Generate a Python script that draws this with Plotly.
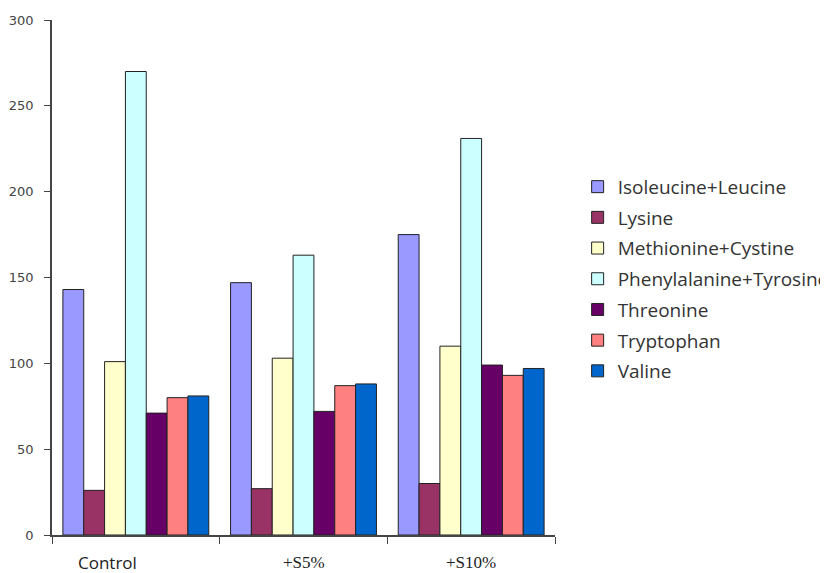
import plotly.graph_objects as go

categories = ["Control", "+S5%", "+S10%"]
series_names = ["Isoleucine+Leucine", "Lysine", "Methionine+Cystine",
                "Phenylalanine+Tyrosine", "Threonine", "Tryptophan", "Valine"]
isoleucine_leucine = [143, 147, 175]
lysine = [26, 27, 30]
methionine_cystine = [101, 103, 110]
phenylalanine_tyrosine = [270, 163, 231]
threonine = [71, 72, 99]
tryptophan = [80, 87, 93]
valine = [81, 88, 97]
values = [isoleucine_leucine, lysine, methionine_cystine, phenylalanine_tyrosine,
          threonine, tryptophan, valine]
colors = ["#9999FF", "#993366", "#FFFFCC", "#CCFFFF", "#660066", "#FF8080", "#0066CC"]
y_ticks = [0, 50, 100, 150, 200, 250, 300]

fig = go.Figure()
for name, vals, col in zip(series_names, values, colors):
    fig.add_trace(go.Bar(
        x=categories, y=vals, name=name, legendgroup=name,
        marker=dict(color=col, line=dict(color="#222222", width=1)),
    ))

# category labels (Control in sans, others in serif as in the reference)
label_fonts = ["Open Sans, sans-serif", "Liberation Serif, serif", "Liberation Serif, serif"]
label_sizes = [17, 17, 17]
label_shift = [-28, 0, 0]
for cat, fam, sz, sh in zip(categories, label_fonts, label_sizes, label_shift):
    fig.add_annotation(x=cat, y=0, xref="x", yref="y", text=cat, showarrow=False,
                       yanchor="middle", yshift=-27, xshift=sh,
                       font=dict(family=fam, size=sz, color="#222222"))

fig.update_layout(
    width=828, height=573,
    margin=dict(l=44, r=281, t=12, b=46, autoexpand=False),
    paper_bgcolor="white", plot_bgcolor="white",
    barmode="group", bargap=0.13, bargroupgap=0,
    showlegend=True,
    legend=dict(x=1.045, y=0.713, xanchor="left", yanchor="top",
                font=dict(family="Open Sans, Liberation Sans, sans-serif", size=19, color="#333333"),
                tracegroupgap=3, itemwidth=30, bgcolor="rgba(0,0,0,0)"),
    font=dict(family="DejaVu Sans, sans-serif", color="#333333"),
)
fig.update_xaxes(
    showline=True, linecolor="#444444", linewidth=1.5,
    ticks="outside", tickson="boundaries", ticklen=7, tickcolor="#444444",
    showticklabels=False, automargin=False, showgrid=False, zeroline=False,
)
fig.update_yaxes(
    range=[0, 300], tickvals=y_ticks, showline=True, linecolor="#444444", linewidth=1.5,
    ticks="outside", ticklen=6, tickcolor="#444444", automargin=False,
    tickfont=dict(family="DejaVu Sans, sans-serif", size=13, color="#444444"),
    ticklabelstandoff=8, showgrid=False, zeroline=False,
)
fig.write_html("out.html")
